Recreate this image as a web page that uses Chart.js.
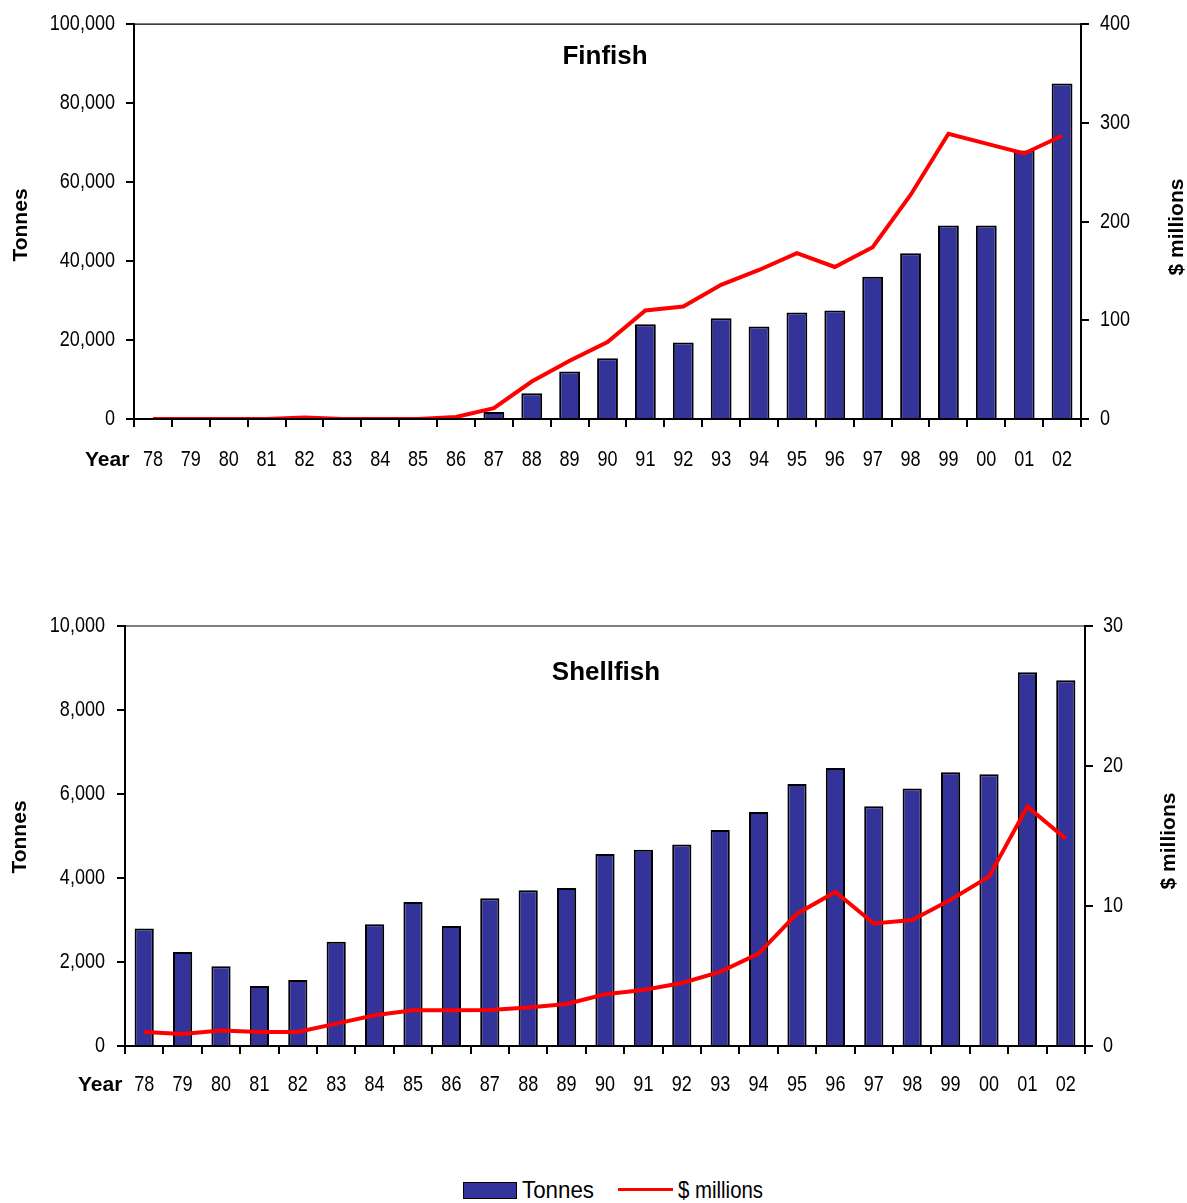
<!DOCTYPE html>
<html>
<head>
<meta charset="utf-8">
<script src="https://cdn.jsdelivr.net/npm/chart.js@4.4.1/dist/chart.umd.min.js"></script>
<style>
  html, body { margin: 0; padding: 0; background: #fff; }
  body { width: 1187px; height: 1203px; position: relative; overflow: hidden; }
  canvas { position: absolute; left: 0; }
  #c1 { top: 0; }
  #c2 { top: 600px; }
  .legend { position: absolute; top: 1176px; left: 0; width: 1187px; height: 27px;
    font-family: "Liberation Sans", Arial, sans-serif; font-size: 24px; color: #000; }
  .legend .box { position: absolute; left: 463px; top: 6px; width: 52px; height: 15px; background: #333399; border: 1px solid #000; }
  .legend .t1 { position: absolute; left: 522px; top: 0px; line-height: 27px; transform: scaleX(0.93); transform-origin: 0 50%; white-space: nowrap; }
  .legend .line { position: absolute; left: 618px; top: 12px; width: 55px; height: 3px; background: #ff0000; }
  .legend .t2 { position: absolute; left: 678px; top: 0px; line-height: 27px; transform: scaleX(0.85); transform-origin: 0 50%; white-space: nowrap; }
</style>
</head>
<body>
<canvas id="c1" width="1187" height="480"></canvas>
<canvas id="c2" width="1187" height="500"></canvas>
<div class="legend">
  <div class="box"></div><span class="t1">Tonnes</span>
  <div class="line"></div><span class="t2">$ millions</span>
</div>
<script>
const years = ['78','79','80','81','82','83','84','85','86','87','88','89','90','91','92','93','94','95','96','97','98','99','00','01','02'];

const finfishTonnes = [0,0,0,0,100,0,0,0,100,1800,6500,12000,15400,24000,19400,25500,23400,27000,27500,36000,42000,49000,49000,68000,85000];
const finfishValue  = [0,0,0,0,1.5,0,0,0,2,11,38,59,78,110,114,136,151,168,154,174,227,289,279,269,287];

const shellfishTonnes = [2800,2240,1900,1430,1570,2480,2900,3430,2860,3520,3710,3760,4570,4670,4800,5140,5570,6240,6620,5710,6130,6520,6470,8900,8710];
const shellfishValue  = [1.0,0.86,1.1,1.0,1.0,1.6,2.2,2.55,2.55,2.57,2.75,3.0,3.7,4.0,4.5,5.3,6.6,9.45,11.0,8.75,9.0,10.45,12.1,17.1,14.8];

const finfishLeftTicks = { max: 100000, step: 20000 };
const finfishRightTicks = { max: 400, step: 100 };
const shellfishLeftTicks = { max: 10000, step: 2000 };
const shellfishRightTicks = { max: 30, step: 10 };

const FONT = '"Liberation Sans", Arial, sans-serif';

// The source uses a narrow typeface for tick labels; condense non-bold canvas text horizontally.
function condense(canvas, factor) {
  const ctx = canvas.getContext('2d');
  const orig = ctx.fillText.bind(ctx);
  ctx.fillText = function (text, x, y, maxWidth) {
    if (!/bold/.test(ctx.font)) {
      const w = ctx.measureText(String(text)).width * factor;
      return orig(text, x, y, maxWidth !== undefined ? Math.min(maxWidth, w) : w);
    }
    return maxWidth !== undefined ? orig(text, x, y, maxWidth) : orig(text, x, y);
  };
}

function makeChart(canvasId, cfg) {
  const canvas = document.getElementById(canvasId);
  condense(canvas, 0.82);

  const decor = {
    id: 'decor',
    afterDraw(chart) {
      const ctx = chart.ctx, a = chart.chartArea;
      ctx.save();
      ctx.strokeStyle = '#000';
      ctx.lineCap = 'square';
      ctx.lineWidth = 1.2;
      ctx.beginPath(); ctx.moveTo(a.left, a.top); ctx.lineTo(a.right, a.top); ctx.stroke();
      ctx.lineWidth = 2;
      ctx.beginPath();
      ctx.moveTo(a.left, a.top); ctx.lineTo(a.left, a.bottom); ctx.lineTo(a.right, a.bottom); ctx.lineTo(a.right, a.top);
      ctx.stroke();
      ctx.fillStyle = '#000';
      ctx.font = 'bold 26px ' + FONT;
      ctx.textAlign = 'center';
      ctx.textBaseline = 'middle';
      ctx.fillText(cfg.title, cfg.titleX, cfg.titleY);
      ctx.font = 'bold 21px ' + FONT;
      ctx.textAlign = 'left';
      ctx.fillText('Year', cfg.yearX, cfg.yearY);
      ctx.textAlign = 'center';
      ctx.save();
      ctx.translate(cfg.leftTitleX, cfg.leftTitleY);
      ctx.rotate(-Math.PI / 2);
      ctx.fillText('Tonnes', 0, 0);
      ctx.restore();
      ctx.save();
      ctx.translate(cfg.rightTitleX, cfg.rightTitleY);
      ctx.rotate(-Math.PI / 2);
      ctx.fillText('$ millions', 0, 0);
      ctx.restore();
      ctx.restore();
    }
  };

  const tickFont = { family: FONT, size: 22 };
  const gridCommon = { drawOnChartArea: false, drawTicks: true, tickLength: 8, color: '#000', lineWidth: 2 };

  return new Chart(canvas, {
    type: 'bar',
    data: {
      labels: years,
      datasets: [
        {
          type: 'line',
          label: '$ millions',
          data: cfg.value,
          yAxisID: 'y1',
          borderColor: '#ff0000',
          borderWidth: 4,
          pointRadius: 0,
          tension: 0,
          order: 0
        },
        {
          type: 'bar',
          label: 'Tonnes',
          data: cfg.tonnes,
          yAxisID: 'y',
          backgroundColor: '#333399',
          borderColor: '#000',
          borderWidth: 2,
          borderSkipped: 'bottom',
          categoryPercentage: 1.0,
          barPercentage: cfg.barPct,
          order: 1
        }
      ]
    },
    options: {
      responsive: false,
      devicePixelRatio: 1,
      animation: false,
      layout: { padding: { top: cfg.padTop, left: 0, right: 0, bottom: 0 } },
      plugins: { legend: { display: false }, tooltip: { enabled: false }, title: { display: false } },
      scales: {
        x: {
          offset: true,
          grid: Object.assign({ offset: true }, gridCommon),
          border: { display: false },
          ticks: { font: tickFont, color: '#000', padding: cfg.xPad, maxRotation: 0, autoSkip: false },
          afterFit: s => { s.height = cfg.xHeight; }
        },
        y: {
          position: 'left',
          min: 0, max: cfg.leftTicks.max,
          grid: gridCommon,
          border: { display: false },
          ticks: { stepSize: cfg.leftTicks.step, font: tickFont, color: '#000', padding: cfg.yPad,
                   callback: v => v.toLocaleString('en-US') },
          afterFit: s => { s.width = cfg.leftW; }
        },
        y1: {
          position: 'right',
          min: 0, max: cfg.rightTicks.max,
          grid: gridCommon,
          border: { display: false },
          ticks: { stepSize: cfg.rightTicks.step, font: tickFont, color: '#000', padding: cfg.y1Pad },
          afterFit: s => { s.width = cfg.rightW; }
        }
      }
    },
    plugins: [decor]
  });
}

makeChart('c1', {
  title: 'Finfish', titleX: 605, titleY: 57,
  yearX: 85, yearY: 460,
  leftTitleX: 21, leftTitleY: 225,
  rightTitleX: 1177, rightTitleY: 227,
  tonnes: finfishTonnes, value: finfishValue,
  leftTicks: finfishLeftTicks, rightTicks: finfishRightTicks,
  padTop: 22, xHeight: 61, leftW: 134, rightW: 106,
  xPad: 20, yPad: 11, y1Pad: 11, barPct: 0.55
});

makeChart('c2', {
  title: 'Shellfish', titleX: 606, titleY: 73,
  yearX: 78, yearY: 485,
  leftTitleX: 20, leftTitleY: 237,
  rightTitleX: 1169, rightTitleY: 241,
  tonnes: shellfishTonnes, value: shellfishValue,
  leftTicks: shellfishLeftTicks, rightTicks: shellfishRightTicks,
  padTop: 26, xHeight: 54, leftW: 125, rightW: 102,
  xPad: 18, yPad: 12, y1Pad: 10, barPct: 0.5
});
</script>
</body>
</html>
